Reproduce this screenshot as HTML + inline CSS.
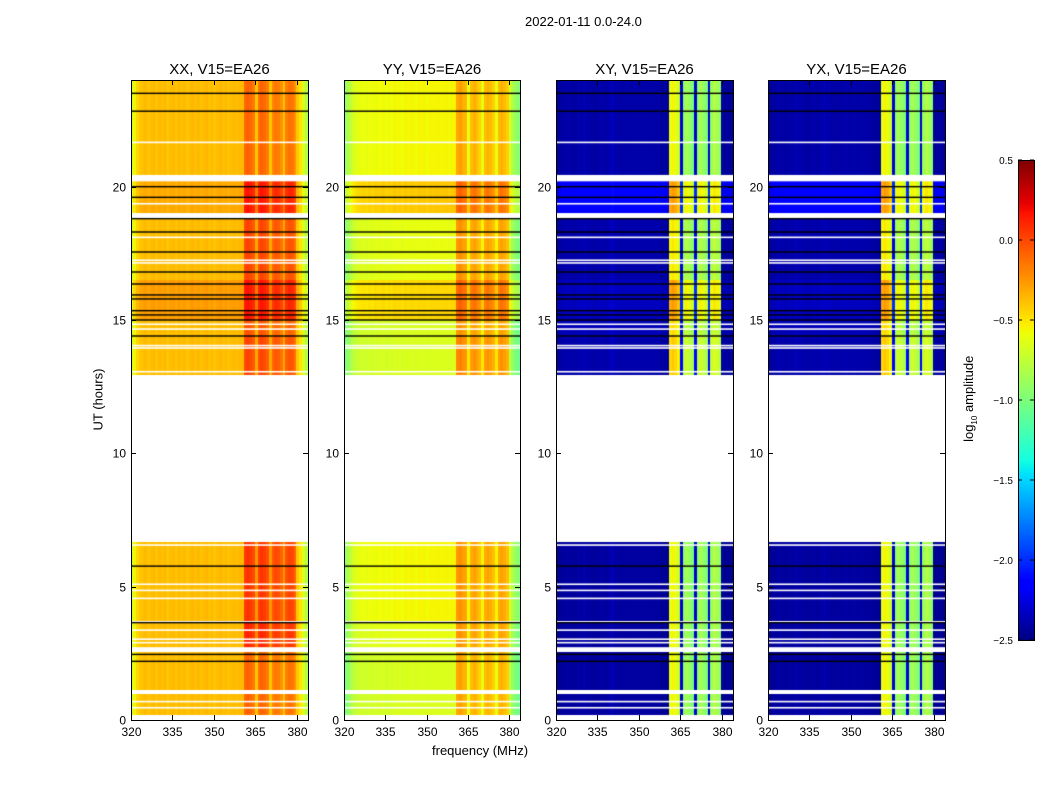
<!DOCTYPE html>
<html><head><meta charset="utf-8"><style>
body{margin:0;background:#fff;width:1050px;height:800px;position:relative;overflow:hidden;font-family:"Liberation Sans","DejaVu Sans",sans-serif;}
.t{position:absolute;color:#000;white-space:nowrap;}
canvas{position:absolute;}
</style></head><body>
<div class="t" style="left:525px;top:14px;font-size:13px;">2022-01-11 0.0-24.0</div>
<div class="t" style="left:48px;top:392px;font-size:13px;transform:rotate(-90deg);width:100px;text-align:center;">UT (hours)</div>
<div class="t" style="left:432px;top:743px;font-size:13px;">frequency (MHz)</div>
<div class="t" style="left:920px;top:390px;font-size:13px;transform:rotate(-90deg);width:100px;text-align:center;">log<sub style="font-size:8px">10</sub> amplitude</div>
<canvas id="c0" width="177" height="640" style="left:131px;top:80px"></canvas>
<canvas id="c1" width="176" height="640" style="left:344px;top:80px"></canvas>
<canvas id="c2" width="177" height="640" style="left:556px;top:80px"></canvas>
<canvas id="c3" width="177" height="640" style="left:768px;top:80px"></canvas>
<canvas id="cb" width="16" height="481" style="left:1018px;top:160px"></canvas>
<svg id="ov" width="1050" height="800" style="position:absolute;left:0;top:0"></svg>
<script>
const panelTitles=["XX, V15=EA26","YY, V15=EA26","XY, V15=EA26","YX, V15=EA26"];
const panelLeft=[131,344,556,768];
const panelWidth=[177,176,177,177];
const freqTicks=[320,335,350,365,380];
const timeTicks=[0,5,10,15,20];
const cbTicks=[-2.5,-2.0,-1.5,-1.0,-0.5,0.0,0.5];
const profXX=[-0.75,-0.55,-0.45,-0.4,-0.38,-0.36,-0.4,-0.37,-0.35,-0.39,-0.36,-0.38,-0.35,-0.4,-0.37,-0.36,-0.39,-0.35,-0.38,-0.36,-0.4,-0.37,-0.35,-0.38,-0.36,-0.39,-0.37,-0.35,-0.38,-0.36,-0.4,-0.37,-0.35,-0.38,-0.36,-0.39,-0.37,-0.36,-0.38,-0.36,-0.36,-0.05,-0.02,-0.05,-0.1,-0.35,-0.08,-0.03,-0.06,-0.12,-0.35,-0.15,-0.1,-0.12,-0.18,-0.35,-0.12,-0.08,-0.1,-0.18,-0.4,-0.5,-0.65,-0.8];
const profYY=[-0.95,-0.85,-0.75,-0.67,-0.63,-0.61,-0.6,-0.59,-0.61,-0.58,-0.6,-0.57,-0.59,-0.58,-0.56,-0.59,-0.57,-0.58,-0.55,-0.57,-0.56,-0.58,-0.55,-0.57,-0.55,-0.56,-0.57,-0.55,-0.56,-0.55,-0.57,-0.55,-0.56,-0.55,-0.55,-0.56,-0.55,-0.55,-0.56,-0.55,-0.55,-0.25,-0.22,-0.28,-0.3,-0.55,-0.32,-0.28,-0.32,-0.38,-0.55,-0.32,-0.28,-0.32,-0.38,-0.55,-0.32,-0.28,-0.32,-0.38,-0.65,-0.8,-0.9,-0.95];
const profXY=[-2.45,-2.45,-2.42,-2.42,-2.4,-2.42,-2.43,-2.42,-2.4,-2.42,-2.38,-2.42,-2.4,-2.42,-2.43,-2.42,-2.4,-2.42,-2.42,-2.4,-2.35,-2.42,-2.4,-2.42,-2.42,-2.4,-2.42,-2.42,-2.4,-2.42,-2.42,-2.4,-2.42,-2.42,-2.4,-2.42,-2.42,-2.42,-2.44,-2.45,-2.45,-0.6,-0.55,-0.6,-0.7,-2.3,-0.95,-0.85,-0.9,-1.0,-2.3,-0.95,-0.85,-0.9,-1.0,-2.3,-0.9,-0.8,-0.85,-0.95,-2.45,-2.45,-2.45,-2.45];
const profYX=[-2.45,-2.45,-2.42,-2.42,-2.4,-2.42,-2.43,-2.42,-2.4,-2.42,-2.38,-2.42,-2.4,-2.42,-2.43,-2.42,-2.4,-2.42,-2.42,-2.4,-2.38,-2.42,-2.4,-2.42,-2.42,-2.4,-2.42,-2.42,-2.4,-2.42,-2.42,-2.4,-2.42,-2.42,-2.4,-2.42,-2.42,-2.42,-2.44,-2.45,-2.45,-0.6,-0.55,-0.6,-0.7,-2.3,-0.95,-0.85,-0.9,-1.0,-2.3,-0.95,-0.85,-0.9,-1.0,-2.3,-0.9,-0.8,-0.85,-0.95,-2.45,-2.45,-2.45,-2.45];
const bandLo=361, bandHi=380;
const segStart=[0.2,2.6,3.7,12.94,14.4,15.0,16.5,18.8,20.44];
const segEnd=[2.56,3.65,6.66,14.4,15.0,16.5,18.8,20.2,24.0];
const bgOffXX=[0.0,0.0,0.0,0.0,0.0,0.1,0.0,0.06,0.0];
const bandOffXX=[-0.05,0.15,0.1,0.05,0.0,0.2,0.05,0.2,-0.05];
const bgOffYY=[-0.1,-0.05,0.0,-0.1,-0.1,0.1,-0.05,0.15,0.0];
const bandOffYY=[-0.05,0.0,0.0,0.05,0.0,0.15,0.0,0.15,-0.05];
const bgOffXY=[0.0,0.0,0.0,0.03,0.06,0.08,0.03,0.25,0.02];
const bandOffXY=[0.0,0.0,0.0,0.15,0.1,0.3,0.05,0.3,0.0];
const whiteLines=[21.66,19.36,18.1,17.24,17.14,14.84,14.66,14.04,13.95,13.06,6.56,5.09,4.86,4.56,3.37,3.03,2.9,0.69,0.46];
const whiteGapStart=[20.2,18.82,2.56,0.975];
const whiteGapEnd=[20.44,19.01,2.73,1.125];
const blackLines=[23.5,22.83,20.0,19.6,18.8,18.3,17.55,16.8,16.35,15.94,15.79,15.35,15.19,15.0,14.4,5.77,3.65,2.46,2.2];

const profs=[profXX,profYY,profXY,profYX];
const bgOffs=[bgOffXX,bgOffYY,bgOffXY,bgOffXY];
const bandOffs=[bandOffXX,bandOffYY,bandOffXY,bandOffXY];
const vmin=-2.5,vmax=0.5, fmin=320,fmax=384, tmin=0,tmax=24, yTop=80,yBot=720;
const jR=[[0,0],[0.35,0],[0.66,1],[0.89,1],[1,0.5]];
const jG=[[0,0],[0.125,0],[0.375,1],[0.64,1],[0.91,0],[1,0]];
const jB=[[0,0.5],[0.11,1],[0.34,1],[0.65,0],[1,0]];
function seg(s,x){for(let i=1;i<s.length;i++){if(x<=s[i][0]){const a=s[i-1],b=s[i];return a[1]+(b[1]-a[1])*(x-a[0])/(b[0]-a[0]);}}return s[s.length-1][1];}
function jet(v){let x=(v-vmin)/(vmax-vmin);x=Math.max(0,Math.min(1,x));
 const c=t=>Math.round(255*Math.max(0,Math.min(1,t)));
 return `rgb(${c(seg(jR,x))},${c(seg(jG,x))},${c(seg(jB,x))})`;}
function yPix(h){return (tmax-h)/(tmax-tmin)*(yBot-yTop);}
function draw(p){
 const cv=document.getElementById('c'+p),ctx=cv.getContext('2d'),W=panelWidth[p];
 const xPix=f=>(f-fmin)/(fmax-fmin)*W;
 const prof=profs[p];
 for(let s=0;s<segStart.length;s++){
  const y0=yPix(segEnd[s]),y1=yPix(segStart[s]);
  for(let i=0;i<prof.length;i++){
   const f=fmin+i;const inBand=f>=bandLo&&f<bandHi;
   const v=prof[i]+(inBand?bandOffs[p][s]:bgOffs[p][s]);
   ctx.fillStyle=jet(v);
   const x0=Math.floor(xPix(f)),x1=Math.ceil(xPix(f+1));
   ctx.fillRect(x0,Math.round(y0),x1-x0,Math.round(y1)-Math.round(y0));
  }
 }
 ctx.fillStyle='#fff';
 for(let k=0;k<whiteGapStart.length;k++){const a=yPix(whiteGapEnd[k]),b=yPix(whiteGapStart[k]);ctx.fillRect(0,a,W,b-a);}
 for(const h of whiteLines){ctx.fillRect(0,yPix(h)-0.8,W,1.6);}
 ctx.fillStyle='#000';
 for(const h of blackLines){ctx.fillRect(0,yPix(h)-0.7,W,1.4);}
}
for(let p=0;p<4;p++)draw(p);
(function(){const cv=document.getElementById('cb'),ctx=cv.getContext('2d');
 for(let y=0;y<481;y++){ctx.fillStyle=jet(vmax-(y/480)*(vmax-vmin));ctx.fillRect(0,y,16,1);}})();
const NS='http://www.w3.org/2000/svg',ov=document.getElementById('ov');
function mk(tag,attrs,txt){const e=document.createElementNS(NS,tag);for(const k in attrs)e.setAttribute(k,attrs[k]);if(txt!==undefined)e.textContent=txt;ov.appendChild(e);return e;}
for(let p=0;p<4;p++){
 const L=panelLeft[p],W=panelWidth[p];
 const fx=f=>L+(f-fmin)/(fmax-fmin)*W, ty=h=>yTop+yPix(h);
 const fr=mk('rect',{x:L+0.5,y:yTop+0.5,width:W,height:yBot-yTop,fill:'none',stroke:'#000','stroke-width':1});
 
 
 const tt=mk('text',{x:L+W/2,y:74,'text-anchor':'middle','font-size':15,'font-family':'Liberation Sans, sans-serif'},panelTitles[p]);
 
 
 for(const f of freqTicks){const x=Math.round(fx(f))+0.5;
  mk('line',{x1:x,x2:x,y1:yBot,y2:yBot-5,stroke:'#000'});mk('line',{x1:x,x2:x,y1:yTop,y2:yTop+5,stroke:'#000'});
  const l=mk('text',{x:x,y:yBot+16,'text-anchor':'middle','font-size':12,'font-family':'Liberation Sans, sans-serif'},String(f));
  
  }
 for(const h of timeTicks){const y=Math.round(ty(h))+0.5;
  mk('line',{x1:L,x2:L+5,y1:y,y2:y,stroke:'#000'});mk('line',{x1:L+W,x2:L+W-5,y1:y,y2:y,stroke:'#000'});
  const l=mk('text',{x:L-5,y:y+4,'text-anchor':'end','font-size':12,'font-family':'Liberation Sans, sans-serif'},String(h));
  
  }
}
mk('rect',{x:1018.5,y:160.5,width:16,height:480,fill:'none',stroke:'#000'});
for(const v of cbTicks){const y=160+(vmax-v)/(vmax-vmin)*480;
 mk('line',{x1:1018,x2:1022,y1:y,y2:y,stroke:'#000'});mk('line',{x1:1034,x2:1030,y1:y,y2:y,stroke:'#000'});
 const l=mk('text',{x:1013,y:y+4,'text-anchor':'end','font-size':10,'font-family':'Liberation Sans, sans-serif'},v.toFixed(1).replace('-','\u2212'));
 
 }
</script>
</body></html>
